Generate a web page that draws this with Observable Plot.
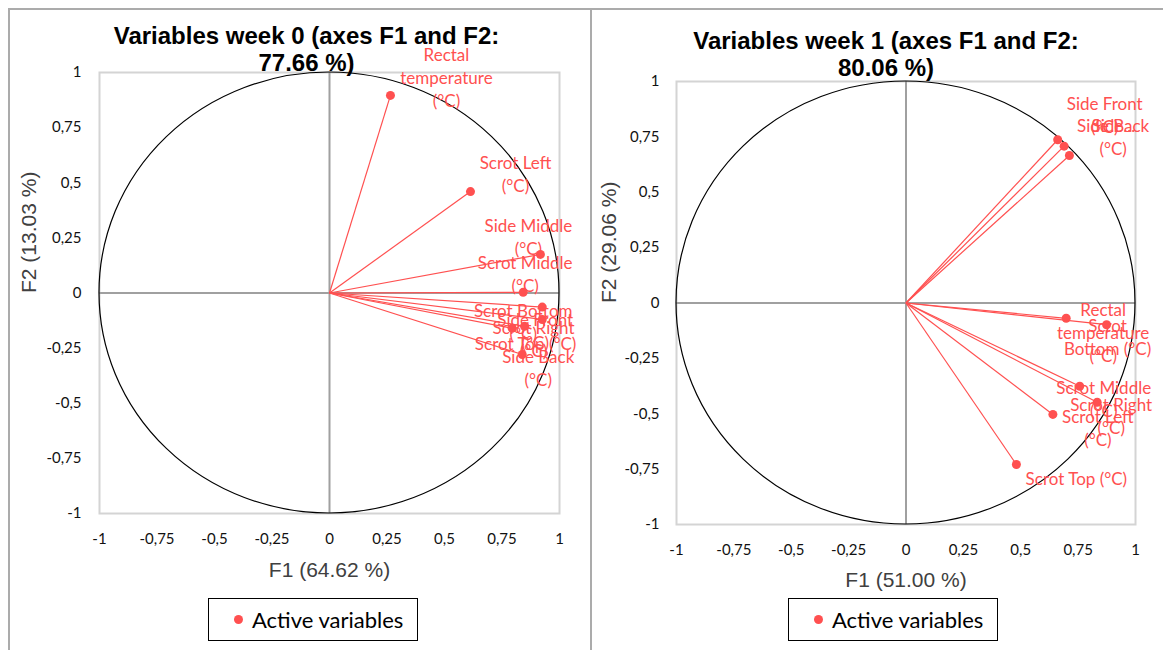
<!DOCTYPE html>
<html>
<head>
<meta charset="utf-8">
<script src="https://cdn.jsdelivr.net/npm/d3@7"></script>
<script src="https://cdn.jsdelivr.net/npm/@observablehq/plot@0.6"></script>
<style>
  body { margin: 0; background: #fff; }
  #page { position: relative; width: 1163px; height: 650px; overflow: hidden; background: #fff; }
  .frame { position: absolute; box-sizing: border-box; border: 0 solid #ababab; }
  .panel { position: absolute; top: 0; }
  .legend { position: absolute; box-sizing: border-box; width: 210px; height: 43px; border: 1px solid #000;
            font-family: Lato, "Open Sans", sans-serif; font-size: 22px; color: #000; display: flex; align-items: center; }
  .legend .dot { display: inline-block; width: 9px; height: 9px; border-radius: 50%; background: #ff5050; margin-left: 25px; margin-right: 9px; }
</style>
</head>
<body>
<div id="page">
  <div class="frame" style="left:8px;top:8px;width:584px;height:700px;border-left-width:2px;border-top-width:2px;border-right-width:2px;"></div>
  <div class="frame" style="left:591px;top:8px;width:700px;height:700px;border-top-width:2px;"></div>
  <div id="p0" class="panel" style="left:0px;"></div>
  <div id="p1" class="panel" style="left:591px;"></div>
  <div class="legend" style="left:208px;top:598px;"><span class="dot"></span><span class="lg"></span></div>
  <div class="legend" style="left:788px;top:598px;"><span class="dot"></span><span class="lg"></span></div>
</div>
<script>
// ---------- Data ----------
const axisTicks = [-1, -0.75, -0.5, -0.25, 0, 0.25, 0.5, 0.75, 1];
const legendLabel = "Active variables";

// Week 0
const titleWeek0 = "Variables week 0 (axes F1 and F2:\n77.66 %)";
const xTitleWeek0 = "F1 (64.62 %)";
const yTitleWeek0 = "F2 (13.03 %)";
const varsWeek0 = ["Rectal temperature (°C)", "Scrot Left (°C)", "Side Middle (°C)", "Scrot Middle (°C)",
  "Scrot Bottom (°C)", "Side Front (°C)", "Scrot Right (°C)", "Scrot Top (°C)", "Side Back (°C)"];
const labelsWeek0 = ["Rectal\ntemperature\n(°C)", "Scrot Left\n(°C)", "Side Middle\n(°C)", "Scrot Middle\n(°C)",
  "Scrot Bottom\n(°C)", "Side Front\n(°C)", "Scrot Right\n(°C)", "Scrot Top (°C)", "Side Back\n(°C)"];
const f1Week0 = [0.265, 0.613, 0.917, 0.842, 0.925, 0.925, 0.848, 0.794, 0.838];
const f2Week0 = [0.896, 0.460, 0.175, 0.003, -0.064, -0.120, -0.151, -0.160, -0.279];

// Week 1
const titleWeek1 = "Variables week 1 (axes F1 and F2:\n80.06 %)";
const xTitleWeek1 = "F1 (51.00 %)";
const yTitleWeek1 = "F2 (29.06 %)";
const varsWeek1 = ["Side Front (°C)", "Side Back (°C)", "Side Middle (°C)", "Rectal temperature (°C)",
  "Scrot Bottom (°C)", "Scrot Middle (°C)", "Scrot Right (°C)", "Scrot Left (°C)", "Scrot Top (°C)"];
const labelsWeek1 = ["Side Front\n(°C)", "Side Back\n(°C)", "Side...", "Rectal\ntemperature\n(°C)",
  "Scrot\nBottom (°C)", "Scrot Middle\n(°C)", "Scrot Right\n(°C)", "Scrot Left\n(°C)", "Scrot Top (°C)"];
const f1Week1 = [0.661, 0.689, 0.712, 0.698, 0.874, 0.757, 0.833, 0.640, 0.481];
const f2Week1 = [0.737, 0.708, 0.666, -0.069, -0.098, -0.376, -0.448, -0.503, -0.729];

// ---------- Layout (label nudges in px, not data) ----------
const labelNudgeWeek0 = [[56,-19],[45,-18.5],[-12,-18],[2,-19],[-19,14],[-7,11],[9,12],[13.5,14],[16,12.5]];
const labelNudgeWeek1 = [[47,-26],[49,-10],[44,-31],[37,13],[1,11.5],[24,12],[14,13],[45,13],[60,13.5]];

const RED = "#ff5050";
const fmt = d => String(d).replace(".", ",");

document.querySelectorAll(".lg").forEach(el => { el.textContent = legendLabel; });

function unitCircle() {
  return (index, scales) => {
    const {x, y} = scales;
    const g = document.createElementNS("http://www.w3.org/2000/svg", "g");
    const e = document.createElementNS("http://www.w3.org/2000/svg", "ellipse");
    e.setAttribute("cx", x(0));
    e.setAttribute("cy", y(0));
    e.setAttribute("rx", Math.abs(x(1) - x(0)));
    e.setAttribute("ry", Math.abs(y(1) - y(0)));
    e.setAttribute("fill", "none");
    e.setAttribute("stroke", "#000");
    e.setAttribute("stroke-width", "1.2");
    g.appendChild(e);
    return g;
  };
}

function panel(cfg) {
  const data = cfg.vars.map((v, i) => ({name: v, label: cfg.labels[i], F1: cfg.f1[i], F2: cfg.f2[i]}));
  const labelMarks = data.map((d, i) => Plot.text([d], {
    x: "F1", y: "F2", text: "label",
    dx: cfg.nudge[i][0], dy: cfg.nudge[i][1],
    textAnchor: "middle", lineAnchor: "middle", lineHeight: 1.35,
    fill: RED, fontSize: 17, fontFamily: "Lato, 'Open Sans', sans-serif"
  }));
  return Plot.plot({
    width: cfg.width, height: 600,
    marginLeft: cfg.ml, marginRight: cfg.mr, marginTop: cfg.mt, marginBottom: cfg.mb,
    x: {domain: [-1, 1]},
    y: {domain: [-1, 1]},
    style: {fontFamily: "Lato, 'Open Sans', sans-serif", fontSize: "15px", color: "#111", background: "transparent", overflow: "visible"},
    marks: [
      Plot.frame({stroke: "#d4d4d4", strokeWidth: 2}),
      Plot.ruleX([0], {stroke: "#a0a0a0", strokeWidth: 2}),
      Plot.ruleY([0], {stroke: "#a0a0a0", strokeWidth: 2}),
      unitCircle(),
      Plot.axisX(axisTicks, {anchor: "bottom", tickSize: 0, tickPadding: 20, tickFormat: fmt, label: null, fontSize: 15}),
      Plot.axisY(axisTicks, {anchor: "left", tickSize: 0, tickPadding: cfg.ytp, tickFormat: fmt, label: null, fontSize: 15}),
      Plot.link(data, {x1: 0, y1: 0, x2: "F1", y2: "F2", stroke: RED, strokeWidth: 1.2}),
      Plot.dot(data, {x: "F1", y: "F2", r: 4.5, fill: RED, stroke: "none"}),
      ...labelMarks,
      Plot.text([cfg.title], {frameAnchor: "top", text: d => d, dx: cfg.tdx, dy: cfg.tdy, lineAnchor: "middle",
        lineHeight: 1.13, fontSize: 24, fontWeight: "bold", fontFamily: "'Liberation Sans', Arial, sans-serif", fill: "#000"}),
      Plot.text([cfg.xTitle], {frameAnchor: "bottom", text: d => d, dy: cfg.xdy, lineAnchor: "middle",
        fontSize: 21, fontFamily: "'Liberation Sans', Arial, sans-serif", fill: "#404040"}),
      Plot.text([cfg.yTitle], {frameAnchor: "left", text: d => d, dx: cfg.ydx, rotate: -90, lineAnchor: "middle",
        fontSize: 21, fontFamily: "'Liberation Sans', Arial, sans-serif", fill: "#404040"})
    ]
  });
}

document.getElementById("p0").appendChild(panel({
  vars: varsWeek0, labels: labelsWeek0, f1: f1Week0, f2: f2Week0, nudge: labelNudgeWeek0,
  title: titleWeek0, xTitle: xTitleWeek0, yTitle: yTitleWeek0,
  width: 591, ml: 99, mr: 32, mt: 72, mb: 87, ytp: 18,
  tdx: -23, tdy: -23.5, xdy: 57, ydx: -70
}));
document.getElementById("p1").appendChild(panel({
  vars: varsWeek1, labels: labelsWeek1, f1: f1Week1, f2: f2Week1, nudge: labelNudgeWeek1,
  title: titleWeek1, xTitle: xTitleWeek1, yTitle: yTitleWeek1,
  width: 572, ml: 85, mr: 28, mt: 81, mb: 76, ytp: 17,
  tdx: -20, tdy: -28, xdy: 56, ydx: -67
}));
</script>
</body>
</html>
